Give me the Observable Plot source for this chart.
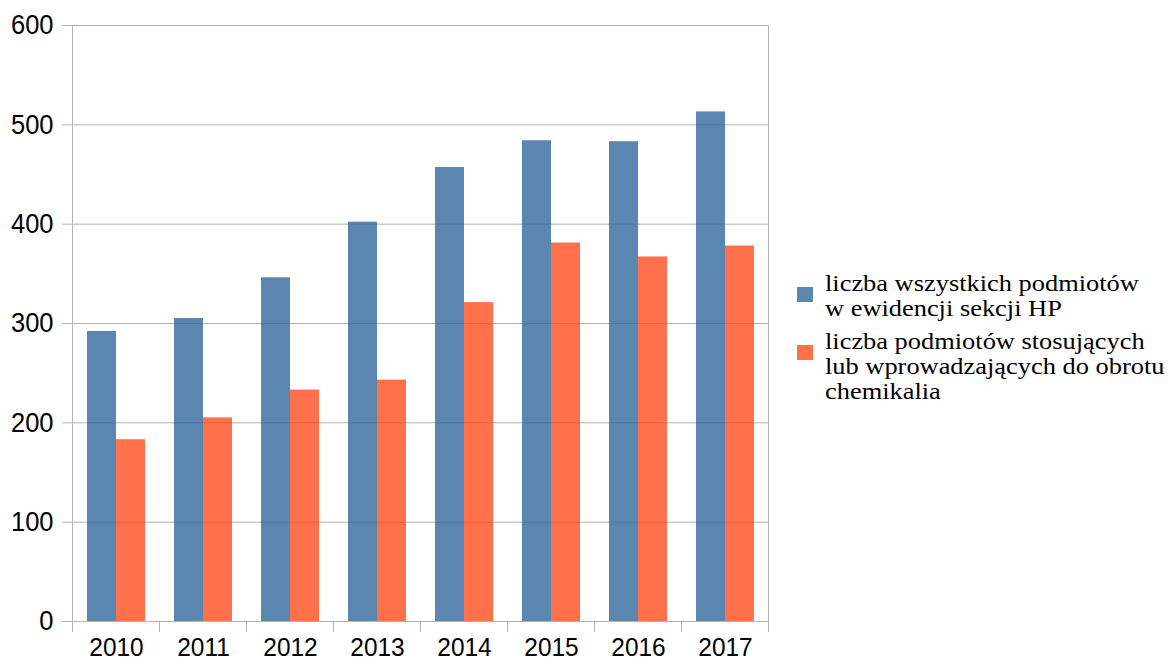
<!DOCTYPE html>
<html>
<head>
<meta charset="utf-8">
<script src="https://cdn.jsdelivr.net/npm/d3@7"></script>
<script src="https://cdn.jsdelivr.net/npm/@observablehq/plot@0.6"></script>
<style>
  body { margin: 0; background: #fff; }
  #wrap { position: relative; width: 1174px; height: 662px; overflow: hidden; }
  #legend { position: absolute; left: 797px; top: 271px; font-family: "Liberation Serif", "Times New Roman", serif; font-size: 24px; line-height: 25px; color: #000; }
  .item { position: relative; margin-bottom: 8px; }
  .sw { position: absolute; left: 0; top: 15.5px; width: 16px; height: 15px; }
  .txt { margin-left: 28px; transform: scaleX(1.1); transform-origin: left top; white-space: nowrap; }
</style>
</head>
<body>
<div id="wrap"></div>
<script>
// ---- data ----
const years = ["2010", "2011", "2012", "2013", "2014", "2015", "2016", "2017"];
const allEntities = [292, 305, 346, 402, 457, 484, 483, 513];      // liczba wszystkich podmiotów w ewidencji sekcji HP
const chemEntities = [183, 205, 233, 243, 321, 381, 367, 378];     // liczba podmiotów stosujących lub wprowadzających do obrotu chemikalia
const yTicks = [0, 100, 200, 300, 400, 500, 600];
const seriesLabels = [
  ["liczba wszystkich podmiotów", "w ewidencji sekcji HP"],
  ["liczba podmiotów stosujących", "lub wprowadzających do obrotu", "chemikalia"]
];
const barColors = ["#235e96", "#ff400f"];   // drawn at 0.75 opacity
const swatchColors = ["#5a86b0", "#ff704b"];

// ---- layout ----
const W = 1174, H = 662, mL = 72, mR = 406, mT = 25, mB = 41;
const pad = 1 / 3;
const step = (W - mL - mR) / years.length;
const halfBand = step * (1 - pad) / 2;
const axisFont = "'Liberation Sans', Arial, sans-serif";

const chart = Plot.plot({
  width: W, height: H,
  marginLeft: mL, marginRight: mR, marginTop: mT, marginBottom: mB,
  style: { fontFamily: axisFont, fontSize: "28px", color: "#000", background: "#fff", overflow: "visible" },
  x: { domain: years, type: "band", paddingInner: pad, paddingOuter: pad / 2, label: null },
  y: { domain: [0, 600], label: null },
  marks: [
    Plot.gridY(yTicks, { stroke: "#b3b3b3", strokeOpacity: 1 }),
    Plot.frame({ stroke: "#b3b3b3" }),
    Plot.barY(years, { x: d => d, y: (d, i) => allEntities[i], fill: barColors[0], fillOpacity: 0.75, insetRight: halfBand }),
    Plot.barY(years, { x: d => d, y: (d, i) => chemEntities[i], fill: barColors[1], fillOpacity: 0.75, insetLeft: halfBand }),
    Plot.axisY(yTicks, { tickSize: 10, tickPadding: 9, stroke: "#b3b3b3", fill: "#000", fontSize: 28, label: null }),
    Plot.axisX({ tickSize: 0, tickPadding: 16.5, fill: "#000", fontSize: 26, label: null })
  ]
});

const wrap = document.getElementById("wrap");
wrap.appendChild(chart);

// category boundary ticks below the x axis, from the x scale
const xs = chart.scale("x");
const ys = chart.scale("y");
const gap = (xs.step - xs.bandwidth) / 2;
const bounds = years.map(y => xs.apply(y) - gap).concat([xs.apply(years[years.length - 1]) + xs.bandwidth + gap]);
const y0 = ys.apply(0);
d3.select(chart).append("g").attr("stroke", "#b3b3b3")
  .selectAll("line").data(bounds).join("line")
  .attr("x1", d => d).attr("x2", d => d)
  .attr("y1", y0).attr("y2", y0 + 11);

// condense tick labels horizontally (tall, narrow digits as in the source)
function condense(sel, k) {
  d3.select(chart).selectAll(sel).each(function () {
    const len = this.getComputedTextLength();
    this.setAttribute("textLength", (len * k).toFixed(2));
    this.setAttribute("lengthAdjust", "spacingAndGlyphs");
  });
}
condense("g[aria-label='y-axis tick label'] text", 0.91);
condense("g[aria-label='x-axis tick label'] text", 0.94);

// legend
const legend = document.createElement("div");
legend.id = "legend";
seriesLabels.forEach((lines, i) => {
  const item = document.createElement("div");
  item.className = "item";
  const sw = document.createElement("div");
  sw.className = "sw";
  sw.style.background = swatchColors[i];
  const txt = document.createElement("div");
  txt.className = "txt";
  lines.forEach(l => { const d = document.createElement("div"); d.textContent = l; txt.appendChild(d); });
  item.appendChild(sw);
  item.appendChild(txt);
  legend.appendChild(item);
});
wrap.appendChild(legend);
</script>
</body>
</html>
